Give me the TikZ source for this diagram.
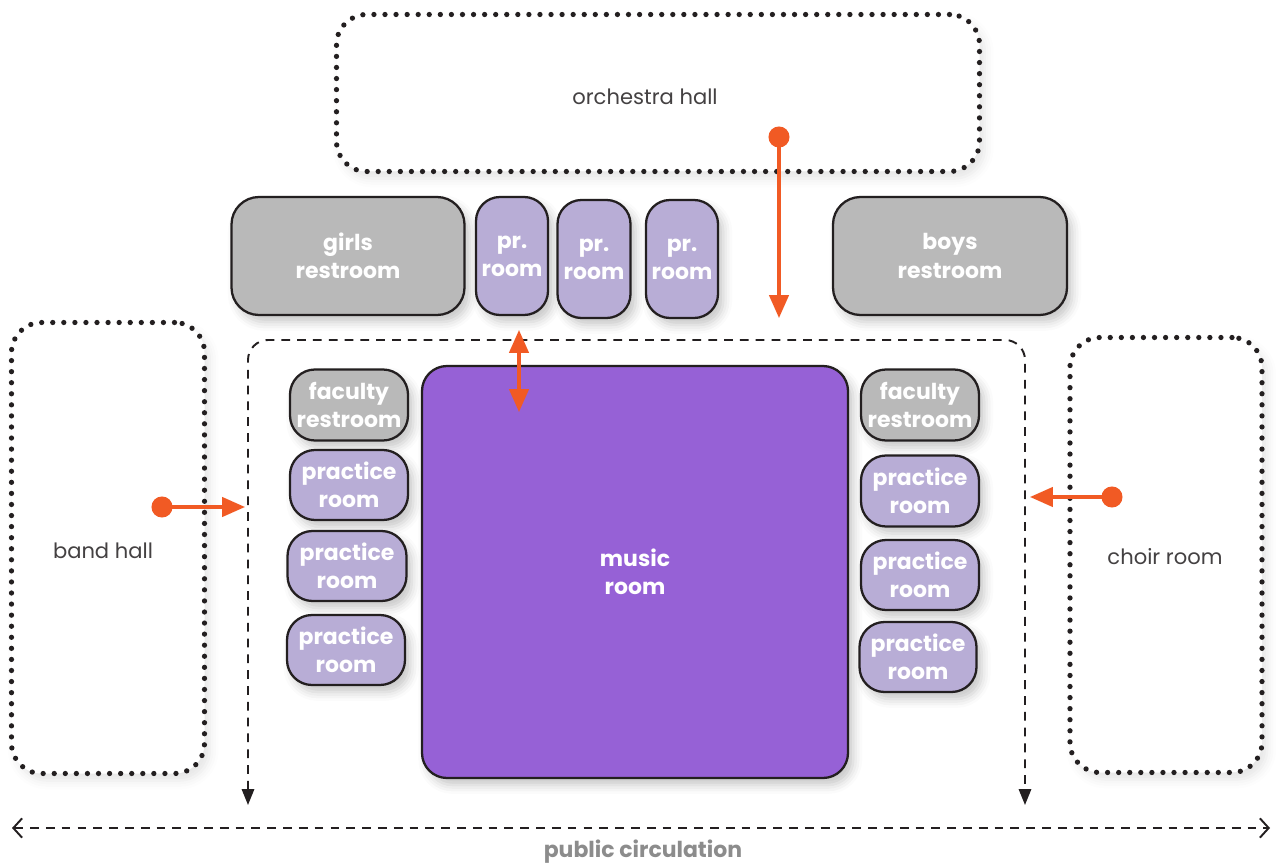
\documentclass[tikz,border=0pt]{standalone}
\usepackage{fontspec}
\setmainfont{Poppins}
\usetikzlibrary{arrows.meta,shadows.blur}
\usepackage{xcolor}
\definecolor{ink}{HTML}{231F20}
\definecolor{wallgray}{HTML}{B9B9B9}
\definecolor{lavender}{HTML}{B8ADD6}
\definecolor{violet}{HTML}{9661D6}
\definecolor{signal}{HTML}{F15A24}
\definecolor{labelgray}{HTML}{8C8C8C}

\begin{document}
\begin{tikzpicture}[
      x=0.02cm, y=-0.02cm,
      sz/.style 2 args={minimum width=#1*0.02cm, minimum height=#2*0.02cm},
      shade/.style={blur shadow={shadow xshift=3pt, shadow yshift=-4pt,
        shadow opacity=22, shadow blur radius=5pt}},
      room/.style={
        draw=ink, line width=1.3pt, rounded corners=0.55cm, align=center,
        text=white, inner sep=0pt, shade,
        font=\fontsize{12.5}{16}\selectfont\bfseries
      },
      restroom/.style={room, fill=wallgray},
      practice/.style={room, fill=lavender, rounded corners=0.48cm},
      hall/.style={
        draw=ink, fill=white, line width=3pt, line cap=round, dash pattern=on 0pt off 6.3pt,
        rounded corners=0.6cm, align=center, text=ink!85, inner sep=0pt,
        font=\fontsize{12}{14}\selectfont, blur shadow={shadow xshift=3pt,
        shadow yshift=-4pt, shadow opacity=10, shadow blur radius=5pt}
      },
      flow/.style={-{Triangle[length=13pt, width=11pt]}, line width=1.8pt, draw=signal},
      spot/.style={circle, fill=signal, inner sep=0pt, minimum size=12pt},
      walk/.style={line width=1.1pt, draw=ink, dash pattern=on 5pt off 4pt}
    ]
    \useasboundingbox (0,0) rectangle (1276,865);

    % halls around the suite
    \node[hall, sz={643}{157}] (orchestra) at (658,93) {};
    \node[text=ink!85, font=\fontsize{12}{14}\selectfont] (orchlabel) at (645,97) {orchestra hall};
    \node[hall, sz={193}{451}] (band) at (108,548) {};
    \node[text=ink!85, font=\fontsize{12}{14}\selectfont] (bandlabel) at (103,551) {band hall};
    \node[hall, sz={192}{435}] (choir) at (1166,555) {};
    \node[text=ink!85, font=\fontsize{12}{14}\selectfont] (choirlabel) at (1165,557) {choir room};

    % top row
    \node[restroom, sz={233}{118}] (girls) at (348,256) {girls\\restroom};
    \node[practice, sz={72}{118}] (pr1) at (512,256) {pr.\\room};
    \node[practice, sz={73}{118}] (pr2) at (594,259) {pr.\\room};
    \node[practice, sz={72}{118}] (pr3) at (682,259) {pr.\\room};
    \node[restroom, sz={234}{118}] (boys) at (950,256) {boys\\restroom};

    % music room and side rooms
    \node[room, fill=violet, sz={426}{412}, rounded corners=0.5cm] (music) at (635,572) {music\\room};

    \node[restroom, sz={118}{71}, rounded corners=0.5cm] (facleft) at (349,405) {faculty\\restroom};
    \node[practice, sz={118}{70}, rounded corners=0.5cm] (pleft1) at (349,485) {practice\\room};
    \node[practice, sz={119}{70}, rounded corners=0.5cm] (pleft2) at (347,566) {practice\\room};
    \node[practice, sz={118}{70}, rounded corners=0.5cm] (pleft3) at (346,650) {practice\\room};

    \node[restroom, sz={118}{71}, rounded corners=0.5cm] (facright) at (920,405) {faculty\\restroom};
    \node[practice, sz={118}{71}, rounded corners=0.5cm] (pright1) at (920,491) {practice\\room};
    \node[practice, sz={118}{70}, rounded corners=0.5cm] (pright2) at (920,575) {practice\\room};
    \node[practice, sz={117}{70}, rounded corners=0.5cm] (pright3) at (918,657) {practice\\room};

    % inner corridor
    \coordinate (corrleft) at (248,805);
    \coordinate (corrright) at (1025,805);
    \draw[walk, {Triangle[length=9pt, width=7pt]}-{Triangle[length=9pt, width=7pt]}, rounded corners=0.4cm]
      (corrleft) -- (248,340) -- (1025,340) -- (corrright);

    % public circulation
    \coordinate (publeft) at (12,828);
    \coordinate (pubright) at (1270,828);
    \draw[walk, {Straight Barb[length=5pt, width=11pt]}-{Straight Barb[length=5pt, width=11pt]}]
      (publeft) -- (pubright);
    \node[text=labelgray, font=\fontsize{12.5}{15}\selectfont\bfseries] (publabel) at (643,852) {public circulation};

    % entries
    \coordinate (orchdot) at (779,137);
    \coordinate (orchend) at (779,318);
    \coordinate (banddot) at (162,507);
    \coordinate (bandend) at (245,507);
    \coordinate (choirdot) at (1112,497);
    \coordinate (choirend) at (1030,497);
    \coordinate (prtop) at (519,330);
    \coordinate (prbottom) at (519,412);

    \draw[flow] (orchdot) -- (orchend);
    \draw[flow] (banddot) -- (bandend);
    \draw[flow] (choirdot) -- (choirend);
    \draw[flow, {Triangle[length=13pt, width=11pt]}-{Triangle[length=13pt, width=11pt]}] (prtop) -- (prbottom);
    \node[spot] (orchspot) at (orchdot) {};
    \node[spot] (bandspot) at (banddot) {};
    \node[spot] (choirspot) at (choirdot) {};
  \end{tikzpicture}
\end{document}
